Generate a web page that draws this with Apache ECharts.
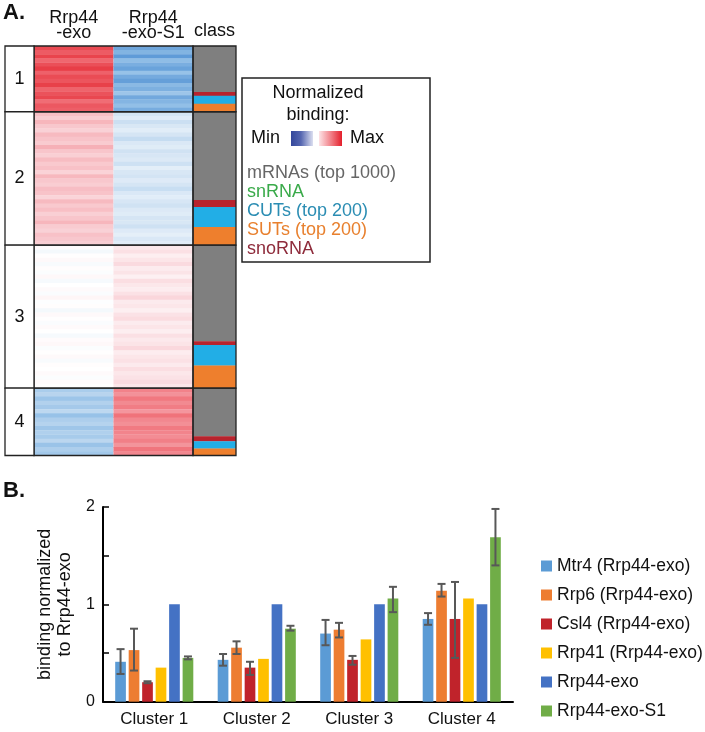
<!DOCTYPE html>
<html><head><meta charset="utf-8">
<script src="https://cdn.jsdelivr.net/npm/echarts@6/dist/echarts.min.js"></script>
<style>html,body{margin:0;padding:0;background:#fff}#c{width:705px;height:732px}</style>
</head><body><div id="c"></div>
<script>
// ================= Panel A data =================
const heatColumns = ['Rrp44\n-exo', 'Rrp44\n-exo-S1'];
const classColumn = ['class'];
const clusterNames = ['1', '2', '3', '4'];
// gene counts per cluster, class column order top→bottom: mRNA, snoRNA, CUT, SUT
const mrnaCounts = [165, 317, 345, 173];
const snoCounts  = [14, 25, 13, 18];
const cutCounts  = [28, 72, 74, 26];
const sutCounts  = [29, 65, 81, 25];
const classLegend = ['mRNAs (top 1000)', 'snRNA', 'CUTs (top 200)', 'SUTs (top 200)', 'snoRNA'];
const legendMinMax = ['Min', 'Max'];

// normalized binding stripes (-1 = min, 1 = max), per cluster
const exoC1 = [0.88,0.82,0.90,0.78,0.86,0.92,0.80,0.87,0.84,0.91,0.79,0.85,0.89,0.76,0.83,0.81];
const exoC2 = [0.42,0.35,0.47,0.38,0.33,0.45,0.40,0.36,0.50,0.39,0.34,0.44,0.37,0.41,0.32,0.46,
               0.38,0.35,0.43,0.40,0.31,0.45,0.37,0.42,0.34,0.39,0.47,0.36,0.33,0.41,0.38,0.35];
const exoC3 = [0.03,-0.06,0.01,0.05,-0.04,0.02,-0.02,0.06,-0.05,0.00,0.04,-0.03,0.07,-0.01,0.02,-0.06,0.05,
               0.01,-0.03,0.04,0.00,-0.05,0.03,0.06,-0.02,0.01,0.05,-0.04,0.02,0.00,0.04,-0.02,0.03,0.01];
const exoC4 = [-0.40,-0.35,-0.45,-0.37,-0.42,-0.33,-0.47,-0.39,-0.36,-0.44,-0.38,-0.41,-0.34,-0.46,-0.39,-0.43];
const s1C1  = [-0.62,-0.55,-0.68,-0.50,-0.58,-0.64,-0.47,-0.60,-0.66,-0.52,-0.57,-0.45,-0.61,-0.54,-0.49,-0.59];
const s1C2  = [-0.25,-0.19,-0.28,-0.22,-0.17,-0.24,-0.30,-0.21,-0.18,-0.26,-0.23,-0.20,-0.27,-0.16,-0.22,-0.25,
               -0.19,-0.24,-0.29,-0.21,-0.17,-0.23,-0.26,-0.20,-0.18,-0.24,-0.22,-0.27,-0.19,-0.15,-0.21,-0.17];
const s1C3  = [0.18,0.25,0.14,0.21,0.28,0.16,0.22,0.12,0.26,0.19,0.15,0.24,0.30,0.17,0.20,0.13,0.23,
               0.27,0.16,0.21,0.14,0.25,0.18,0.22,0.29,0.15,0.20,0.24,0.17,0.26,0.19,0.23,0.28,0.21];
const s1C4  = [0.68,0.62,0.72,0.65,0.70,0.60,0.74,0.66,0.63,0.71,0.67,0.64,0.69,0.61,0.73,0.66];

// ================= Panel B data =================
const barCategories = ['Cluster 1', 'Cluster 2', 'Cluster 3', 'Cluster 4'];
const barNames = ['Mtr4 (Rrp44-exo)', 'Rrp6 (Rrp44-exo)', 'Csl4 (Rrp44-exo)', 'Rrp41 (Rrp44-exo)', 'Rrp44-exo', 'Rrp44-exo-S1'];
const mtr4   = [0.41, 0.43, 0.70, 0.85];
const rrp6   = [0.53, 0.555, 0.74, 1.14];
const csl4   = [0.20, 0.35, 0.43, 0.85];
const rrp41  = [0.35, 0.44, 0.64, 1.06];
const rrp44  = [1, 1, 1, 1];
const rrp44s1 = [0.45, 0.75, 1.06, 1.69];
const mtr4Low = [0.285, 0.37, 0.58, 0.79],  mtr4High = [0.54, 0.49, 0.84, 0.91];
const rrp6Low = [0.32, 0.49, 0.66, 1.08],   rrp6High = [0.75, 0.62, 0.81, 1.21];
const csl4Low = [0.19, 0.275, 0.38, 0.45],  csl4High = [0.21, 0.41, 0.47, 1.23];
const s1Low   = [0.435, 0.73, 0.92, 1.40],  s1High   = [0.465, 0.78, 1.18, 1.98];
const yTicks = [0, 1, 2];

// ================= styling =================
const FONT = 'Liberation Sans, Arial, Helvetica, sans-serif';
const heatPalette = ['#1f4e9e','#4d8ed2','#8fbde6','#d3e4f4','#ffffff','#fbe0e4','#f6b0b7','#f07078','#e42630'];
const classColors = ['#7f7f7f', '#b8232d', '#22aee6', '#ee7f2d'];
const classTextColors = ['#666666', '#3aaa4a', '#2b8db3', '#e8802e', '#8e2b3b'];
const barColors = ['#5b9bd5', '#ed7d31', '#c0232b', '#ffc000', '#4472c4', '#70ad47'];
const BAR_W = 10.7, BAR_GAP = 0.26;
const BAR_STEP = BAR_W * (1 + BAR_GAP);
const LINE = '#222';

// ---- derived layout from data ----
const clusterSizes = mrnaCounts.map((m, i) => m + snoCounts[i] + cutCounts[i] + sutCounts[i]);
const clusterStarts = [];
clusterSizes.reduce((acc, s, i) => { clusterStarts[i] = acc; return acc + s; }, 0);
const totalGenes = clusterSizes.reduce((a, b) => a + b, 0);

const heatData = [];
[[exoC1, exoC2, exoC3, exoC4], [s1C1, s1C2, s1C3, s1C4]].forEach((clusters, col) => {
  clusters.forEach((vals, k) => {
    const n = vals.length, st = clusterStarts[k], sz = clusterSizes[k];
    vals.forEach((v, j) => heatData.push([col, st + sz * j / n, st + sz * (j + 1) / n, v]));
  });
});
const classData = [];
clusterSizes.forEach((sz, k) => {
  let y = clusterStarts[k];
  [mrnaCounts[k], snoCounts[k], cutCounts[k], sutCounts[k]].forEach((cnt, ci) => {
    classData.push([0, y, y + cnt, ci]); y += cnt;
  });
});
const frameData = clusterSizes.map((sz, k) => [0, clusterStarts[k], clusterStarts[k] + sz, k]);

function frameRender(withText) {
  return function (params, api) {
    const cs = params.coordSys;
    const p0 = api.coord([0, api.value(1)]);
    const p1 = api.coord([0, api.value(2)]);
    const children = [{
      type: 'rect',
      shape: { x: cs.x, y: p0[1], width: cs.width, height: p1[1] - p0[1] },
      style: { fill: withText ? '#fff' : 'none', stroke: LINE, lineWidth: 1.3 }
    }];
    if (withText) children.push({
      type: 'text',
      style: { text: clusterNames[api.value(3)], x: cs.x + cs.width / 2, y: (p0[1] + p1[1]) / 2,
               textAlign: 'center', textVerticalAlign: 'middle', font: '18px ' + FONT, fill: '#111' }
    });
    return { type: 'group', children };
  };
}

function errRender(idx) {
  return function (params, api) {
    const c = api.value(0);
    const lo = api.coord([c, api.value(1)]);
    const hi = api.coord([c, api.value(2)]);
    const x = lo[0] + (idx - 2.5) * BAR_STEP;
    const st = { stroke: '#585858', lineWidth: 2 };
    const cap = 4;
    return { type: 'group', children: [
      { type: 'line', shape: { x1: x, y1: lo[1], x2: x, y2: hi[1] }, style: st },
      { type: 'line', shape: { x1: x - cap, y1: lo[1], x2: x + cap, y2: lo[1] }, style: st },
      { type: 'line', shape: { x1: x - cap, y1: hi[1], x2: x + cap, y2: hi[1] }, style: st }
    ]};
  };
}

const yGene = (gi) => ({ gridIndex: gi, type: 'value', min: 0, max: totalGenes, inverse: true, show: false });
const barValues = [mtr4, rrp6, csl4, rrp41, rrp44, rrp44s1];
const errSets = [[0, mtr4Low, mtr4High], [1, rrp6Low, rrp6High], [2, csl4Low, csl4High], [5, s1Low, s1High]];

const chart = echarts.init(document.getElementById('c'), null, { renderer: 'canvas' });
chart.setOption({
  animation: false,
  textStyle: { fontFamily: FONT },
  grid: [
    { left: 34, top: 46, width: 159, height: 409.5 },   // heatmap
    { left: 193, top: 46, width: 43, height: 409.5 },   // class
    { left: 5, top: 46, width: 29, height: 409.5 },     // cluster numbers
    { left: 103, top: 507, width: 410, height: 194.7 }  // bar chart
  ],
  xAxis: [
    { gridIndex: 0, type: 'category', data: heatColumns, position: 'top',
      axisLine: { show: false }, axisTick: { show: false },
      axisLabel: { interval: 0, hideOverlap: false, fontSize: 18, lineHeight: 15, color: '#111', margin: 5 } },
    { gridIndex: 1, type: 'category', data: classColumn, position: 'top',
      axisLine: { show: false }, axisTick: { show: false },
      axisLabel: { interval: 0, fontSize: 18, color: '#111', margin: 6 } },
    { gridIndex: 2, type: 'category', data: ['n'], show: false },
    { gridIndex: 3, type: 'category', data: barCategories,
      axisLine: { lineStyle: { color: '#000', width: 2 } }, axisTick: { show: false },
      axisLabel: { interval: 0, fontSize: 17, color: '#111', margin: 9 } }
  ],
  yAxis: [
    yGene(0), yGene(1), yGene(2),
    { gridIndex: 3, type: 'value', min: 0, max: 2, interval: 0.5,
      name: 'binding normalized\nto Rrp44-exo', nameLocation: 'middle', nameRotate: 90, nameGap: 24,
      nameTextStyle: { fontSize: 18, lineHeight: 20, color: '#111' },
      axisLine: { show: true, lineStyle: { color: '#000', width: 2 } },
      axisTick: { show: true, inside: true, length: 6, lineStyle: { color: '#000', width: 1.5 } },
      splitLine: { show: false },
      axisLabel: { fontSize: 16, color: '#111', margin: 8,
        formatter: (v) => (yTicks.indexOf(v) >= 0 ? String(v) : '') } }
  ],
  visualMap: [{ show: false, type: 'continuous', seriesIndex: 0, dimension: 3, min: -1, max: 1,
    inRange: { color: heatPalette } }],
  legend: {
    data: barNames, orient: 'vertical', left: 536, top: 552, itemWidth: 11, itemHeight: 11, itemGap: 11,
    icon: 'rect', textStyle: { fontSize: 17.5, color: '#111' }
  },
  series: [
    { type: 'custom', name: 'heat', xAxisIndex: 0, yAxisIndex: 0, data: heatData, z: 1,
      encode: { x: 0, y: [1, 2] },
      renderItem: (params, api) => {
        const p0 = api.coord([api.value(0), api.value(1)]);
        const p1 = api.coord([api.value(0), api.value(2)]);
        const w = api.size([1, 0])[0];
        return { type: 'rect', shape: { x: p0[0] - w / 2, y: p0[1], width: w, height: p1[1] - p0[1] + 0.4 },
                 style: { fill: api.visual('color') } };
      } },
    { type: 'custom', name: 'class', xAxisIndex: 1, yAxisIndex: 1, data: classData, z: 1,
      encode: { x: 0, y: [1, 2] },
      renderItem: (params, api) => {
        const cs = params.coordSys;
        const p0 = api.coord([0, api.value(1)]);
        const p1 = api.coord([0, api.value(2)]);
        return { type: 'rect', shape: { x: cs.x, y: p0[1], width: cs.width, height: p1[1] - p0[1] + 0.3 },
                 style: { fill: classColors[api.value(3)] } };
      } },
    { type: 'custom', name: 'frameHeat', xAxisIndex: 0, yAxisIndex: 0, data: frameData, z: 3,
      encode: { x: 0, y: [1, 2] }, renderItem: frameRender(false) },
    { type: 'custom', name: 'frameClass', xAxisIndex: 1, yAxisIndex: 1, data: frameData, z: 3,
      encode: { x: 0, y: [1, 2] }, renderItem: frameRender(false) },
    { type: 'custom', name: 'frameNum', xAxisIndex: 2, yAxisIndex: 2, data: frameData, z: 3,
      encode: { x: 0, y: [1, 2] }, renderItem: frameRender(true) },
    ...barNames.map((nm, i) => ({
      type: 'bar', name: nm, xAxisIndex: 3, yAxisIndex: 3, data: barValues[i],
      barWidth: BAR_W, barGap: (BAR_GAP * 100) + '%', itemStyle: { color: barColors[i] }, z: 2
    })),
    ...errSets.map(([idx, lo, hi]) => ({
      type: 'custom', name: barNames[idx] + ' err', xAxisIndex: 3, yAxisIndex: 3, z: 4,
      data: lo.map((l, c) => [c, l, hi[c]]), encode: { x: 0, y: [1, 2] },
      renderItem: errRender(idx)
    }))
  ],
  graphic: [
    { type: 'text', left: 3, top: 2, style: { text: 'A.', font: 'bold 22px ' + FONT, fill: '#111' } },
    { type: 'text', left: 3, top: 480, style: { text: 'B.', font: 'bold 22px ' + FONT, fill: '#111' } },
    { type: 'rect', shape: { x: 242, y: 78, width: 188, height: 184 },
      style: { fill: '#fff', stroke: LINE, lineWidth: 1.5 }, z: 10 },
    { type: 'text', z: 11, style: { text: 'Normalized', x: 318, y: 93, textAlign: 'center', textVerticalAlign: 'middle', font: '18px ' + FONT, fill: '#111' } },
    { type: 'text', z: 11, style: { text: 'binding:', x: 318, y: 115, textAlign: 'center', textVerticalAlign: 'middle', font: '18px ' + FONT, fill: '#111' } },
    { type: 'text', z: 11, style: { text: legendMinMax[0], x: 251, y: 138, textAlign: 'left', textVerticalAlign: 'middle', font: '18px ' + FONT, fill: '#111' } },
    { type: 'text', z: 11, style: { text: legendMinMax[1], x: 350, y: 138, textAlign: 'left', textVerticalAlign: 'middle', font: '18px ' + FONT, fill: '#111' } },
    { type: 'rect', z: 11, shape: { x: 291, y: 131, width: 22, height: 15 },
      style: { fill: new echarts.graphic.LinearGradient(0, 0, 1, 0, [
        { offset: 0, color: '#34479b' }, { offset: 0.45, color: '#5566b0' }, { offset: 1, color: '#dcdff0' }]) } },
    { type: 'rect', z: 11, shape: { x: 319, y: 131, width: 23, height: 15 },
      style: { fill: new echarts.graphic.LinearGradient(0, 0, 1, 0, [
        { offset: 0, color: '#fde3e6' }, { offset: 0.55, color: '#f07a82' }, { offset: 1, color: '#e41f2b' }]) } },
    ...classLegend.map((t, i) => ({ type: 'text', z: 11,
      style: { text: t, x: 247, y: 173 + i * 19, textAlign: 'left', textVerticalAlign: 'middle',
               font: '18px ' + FONT, fill: classTextColors[i] } }))
  ]
});
</script></body></html>
